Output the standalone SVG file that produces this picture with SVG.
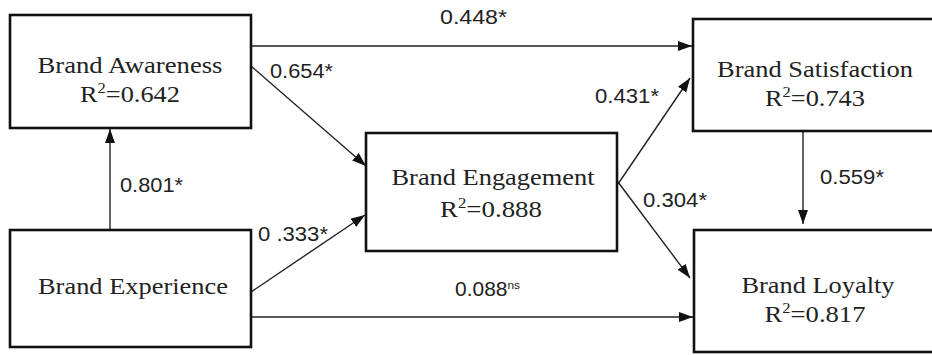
<svg xmlns="http://www.w3.org/2000/svg" width="932" height="355" viewBox="0 0 932 355">
  <defs>
    <marker id="head" markerUnits="userSpaceOnUse" markerWidth="15" markerHeight="12" refX="14" refY="5" orient="auto">
      <path d="M0,0 L14,5 L0,10 Z" fill="#111"/>
    </marker>
    <style>
      .box { fill: #fff; stroke: #111; stroke-width: 2.6; }
      .name { font-family: "Liberation Serif", "Times New Roman", serif; font-size: 22.5px; fill: #222; text-anchor: middle; }
      .sup { font-size: 14px; }
      .edge { fill: none; stroke: #222; stroke-width: 1.4; marker-end: url(#head); }
      .lbl { font-family: "Liberation Sans", Arial, sans-serif; font-size: 19.5px; fill: #222; }
      .ns { font-size: 11px; }
    </style>
  </defs>
  <rect width="932" height="355" fill="#fff"/>

  <g id="connectors">
    <line class="edge" x1="251" y1="46" x2="692" y2="46"/>
    <line class="edge" x1="251" y1="66" x2="366" y2="166"/>
    <line class="edge" x1="110" y1="230" x2="110" y2="129"/>
    <line class="edge" x1="251" y1="292" x2="365" y2="215"/>
    <line class="edge" x1="251" y1="317" x2="693" y2="317"/>
    <line class="edge" x1="618" y1="184" x2="690" y2="78"/>
    <line class="edge" x1="618" y1="182" x2="690" y2="278"/>
    <line class="edge" x1="803" y1="131" x2="803" y2="224"/>

    <text class="lbl" x="440" y="24" textLength="67" lengthAdjust="spacingAndGlyphs">0.448*</text>
    <text class="lbl" x="270" y="78" textLength="63" lengthAdjust="spacingAndGlyphs">0.654*</text>
    <text class="lbl" x="120" y="192" textLength="63" lengthAdjust="spacingAndGlyphs">0.801*</text>
    <text class="lbl" x="258" y="241" textLength="70" lengthAdjust="spacingAndGlyphs">0 .333*</text>
    <text class="lbl" x="455" y="296" textLength="65" lengthAdjust="spacingAndGlyphs">0.088<tspan class="ns" dy="-7">ns</tspan></text>
    <text class="lbl" x="595" y="103" textLength="64" lengthAdjust="spacingAndGlyphs">0.431*</text>
    <text class="lbl" x="643" y="207" textLength="64" lengthAdjust="spacingAndGlyphs">0.304*</text>
    <text class="lbl" x="820" y="184" textLength="64" lengthAdjust="spacingAndGlyphs">0.559*</text>
  </g>

  <g id="brand-awareness">
    <rect class="box" x="10" y="15" width="241" height="113"/>
    <text class="name" x="130" y="73" textLength="185" lengthAdjust="spacingAndGlyphs">Brand Awareness</text>
    <text class="name" x="130" y="102" textLength="100" lengthAdjust="spacingAndGlyphs">R<tspan class="sup" dy="-9">2</tspan><tspan dy="9">=0.642</tspan></text>
  </g>

  <g id="brand-experience">
    <rect class="box" x="10" y="230" width="241" height="117"/>
    <text class="name" x="133" y="294" textLength="190" lengthAdjust="spacingAndGlyphs">Brand Experience</text>
  </g>

  <g id="brand-engagement">
    <rect class="box" x="366" y="133" width="251" height="118"/>
    <text class="name" x="493" y="185" textLength="203" lengthAdjust="spacingAndGlyphs">Brand Engagement</text>
    <text class="name" x="491" y="217" textLength="102" lengthAdjust="spacingAndGlyphs">R<tspan class="sup" dy="-9">2</tspan><tspan dy="9">=0.888</tspan></text>
  </g>

  <g id="brand-satisfaction">
    <rect class="box" x="693" y="19" width="250" height="112"/>
    <text class="name" x="815" y="77" textLength="196" lengthAdjust="spacingAndGlyphs">Brand Satisfaction</text>
    <text class="name" x="815" y="106" textLength="100" lengthAdjust="spacingAndGlyphs">R<tspan class="sup" dy="-9">2</tspan><tspan dy="9">=0.743</tspan></text>
  </g>

  <g id="brand-loyalty">
    <rect class="box" x="694" y="230" width="250" height="122"/>
    <text class="name" x="818" y="293" textLength="153" lengthAdjust="spacingAndGlyphs">Brand Loyalty</text>
    <text class="name" x="815" y="322" textLength="101" lengthAdjust="spacingAndGlyphs">R<tspan class="sup" dy="-9">2</tspan><tspan dy="9">=0.817</tspan></text>
  </g>
</svg>
